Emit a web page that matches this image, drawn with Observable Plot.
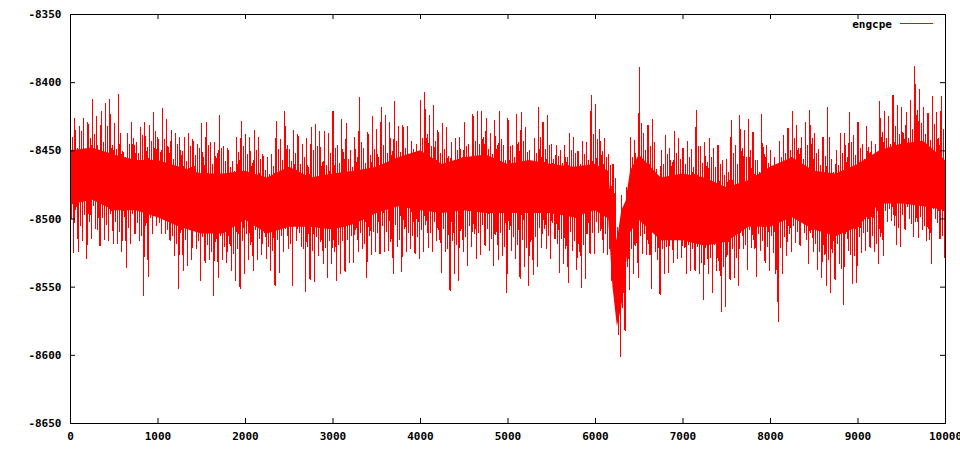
<!DOCTYPE html>
<html>
<head>
<meta charset="utf-8">
<script src="https://cdn.jsdelivr.net/npm/d3@7"></script>
<script src="https://cdn.jsdelivr.net/npm/@observablehq/plot@0.6"></script>
<style>
  html, body { margin: 0; padding: 0; background: #fff; }
  #chart { width: 960px; height: 450px; }
</style>
</head>
<body>
<div id="chart"></div>
<script>
// Series name
const seriesName = "engcpe";
// Tallest spike per 50 units of x (x = 0, 50, ..., 10000)
const highs = [
-8414,-8426,-8432,-8426,-8429,-8412,-8425,-8421,-8415,-8412,
-8430,-8409,-8450,-8437,-8429,-8444,-8433,-8429,-8431,-8422,
-8440,-8419,-8427,-8435,-8437,-8440,-8440,-8437,-8441,-8445,
-8430,-8429,-8444,-8444,-8424,-8447,-8448,-8458,-8440,-8428,
-8438,-8440,-8435,-8440,-8452,-8455,-8453,-8428,-8442,-8421,
-8449,-8435,-8438,-8445,-8441,-8433,-8431,-8436,-8436,-8437,
-8421,-8446,-8427,-8430,-8450,-8440,-8411,-8448,-8436,-8425,
-8434,-8418,-8424,-8429,-8414,-8432,-8431,-8432,-8443,-8445,
-8413,-8407,-8424,-8417,-8435,-8430,-8433,-8444,-8441,-8440,
-8429,-8445,-8423,-8421,-8421,-8426,-8437,-8428,-8421,-8446,
-8426,-8446,-8423,-8422,-8433,-8450,-8441,-8418,-8429,-8424,
-8445,-8446,-8450,-8446,-8437,-8440,-8450,-8443,-8444,-8409,
-8416,-8434,-8441,-8453,-8460,-8506,-8483,-8477,-8440,-8442,
-8389,-8437,-8431,-8427,-8464,-8450,-8439,-8448,-8436,-8441,
-8448,-8443,-8449,-8420,-8447,-8444,-8441,-8448,-8446,-8457,
-8456,-8428,-8446,-8424,-8435,-8427,-8436,-8457,-8423,-8446,
-8450,-8455,-8443,-8439,-8433,-8421,-8431,-8440,-8429,-8420,
-8437,-8449,-8440,-8418,-8456,-8450,-8437,-8437,-8422,-8439,
-8429,-8445,-8432,-8443,-8445,-8414,-8421,-8425,-8409,-8417,
-8418,-8422,-8413,-8388,-8405,-8418,-8422,-8410,-8422,-8410,
-8443
];
// Secondary (shorter) upward spikes (x = 25, 75, ..., 9975)
const midHighs = [
-8440,-8448,-8436,-8452,-8441,-8438,-8450,-8444,-8432,-8446,
-8449,-8437,-8455,-8445,-8441,-8452,-8439,-8447,-8443,-8436,
-8451,-8442,-8447,-8456,-8445,-8450,-8458,-8447,-8453,-8448,
-8455,-8446,-8460,-8452,-8448,-8458,-8462,-8465,-8451,-8447,
-8453,-8459,-8450,-8456,-8464,-8467,-8461,-8449,-8457,-8446,
-8458,-8452,-8460,-8455,-8462,-8450,-8447,-8458,-8461,-8452,
-8448,-8459,-8451,-8456,-8462,-8455,-8444,-8459,-8453,-8449,
-8455,-8446,-8452,-8450,-8443,-8451,-8448,-8454,-8449,-8456,
-8441,-8438,-8447,-8443,-8452,-8449,-8454,-8458,-8450,-8455,
-8447,-8456,-8443,-8445,-8440,-8449,-8453,-8446,-8442,-8457,
-8447,-8455,-8444,-8443,-8451,-8458,-8452,-8440,-8449,-8446,
-8456,-8454,-8459,-8455,-8450,-8452,-8460,-8453,-8457,-8438,
-8442,-8450,-8455,-8461,-8470,-8515,-8495,-8490,-8455,-8458,
-8430,-8450,-8447,-8444,-8472,-8460,-8453,-8458,-8452,-8456,
-8460,-8455,-8462,-8447,-8459,-8458,-8455,-8462,-8460,-8468,
-8466,-8452,-8460,-8448,-8455,-8450,-8457,-8466,-8447,-8459,
-8462,-8466,-8455,-8452,-8450,-8441,-8448,-8456,-8446,-8441,
-8452,-8461,-8454,-8440,-8466,-8461,-8452,-8455,-8444,-8453,
-8448,-8456,-8447,-8455,-8457,-8436,-8441,-8445,-8432,-8438,
-8437,-8441,-8434,-8420,-8430,-8438,-8442,-8431,-8441,-8434
];
// Secondary (shorter) downward spikes (x = 12.5, 62.5, ..., 9962.5)
const midLows = [
-8500,-8493,-8505,-8497,-8502,-8490,-8508,-8499,-8504,-8496,
-8502,-8509,-8498,-8506,-8496,-8503,-8512,-8505,-8499,-8494,
-8503,-8497,-8508,-8512,-8518,-8510,-8515,-8508,-8504,-8516,
-8513,-8519,-8524,-8517,-8512,-8520,-8518,-8525,-8522,-8516,
-8511,-8519,-8508,-8514,-8510,-8520,-8523,-8515,-8512,-8507,
-8518,-8505,-8510,-8522,-8520,-8523,-8513,-8517,-8521,-8516,
-8524,-8519,-8516,-8515,-8512,-8508,-8510,-8518,-8512,-8509,
-8510,-8505,-8509,-8517,-8504,-8515,-8507,-8510,-8512,-8513,
-8508,-8504,-8510,-8502,-8515,-8507,-8522,-8516,-8519,-8509,
-8513,-8505,-8511,-8510,-8504,-8507,-8514,-8512,-8510,-8520,
-8508,-8513,-8519,-8515,-8521,-8517,-8513,-8506,-8507,-8512,
-8503,-8518,-8514,-8522,-8509,-8516,-8524,-8519,-8511,-8510,
-8502,-8509,-8511,-8522,-8540,-8585,-8565,-8535,-8522,-8520,
-8512,-8511,-8526,-8510,-8530,-8522,-8520,-8515,-8513,-8514,
-8521,-8519,-8522,-8520,-8532,-8521,-8528,-8519,-8538,-8535,
-8526,-8522,-8528,-8510,-8519,-8508,-8522,-8511,-8516,-8520,
-8512,-8540,-8521,-8513,-8511,-8505,-8509,-8500,-8515,-8510,
-8518,-8524,-8526,-8530,-8525,-8518,-8536,-8511,-8526,-8527,
-8513,-8510,-8509,-8512,-8518,-8513,-8494,-8492,-8505,-8506,
-8497,-8491,-8503,-8502,-8498,-8505,-8515,-8492,-8503,-8512
];
// Deepest spike per 50 units of x (x = 37.5, 87.5, ..., 9987.5)
const lows = [
-8525,-8524,-8516,-8529,-8514,-8507,-8520,-8515,-8516,-8518,
-8518,-8524,-8536,-8518,-8511,-8516,-8556,-8542,-8511,-8505,
-8511,-8511,-8516,-8527,-8551,-8538,-8534,-8530,-8522,-8545,
-8532,-8530,-8556,-8543,-8530,-8532,-8538,-8545,-8551,-8540,
-8530,-8538,-8530,-8526,-8529,-8538,-8549,-8539,-8524,-8522,
-8549,-8516,-8520,-8553,-8545,-8546,-8527,-8533,-8543,-8533,
-8545,-8540,-8539,-8532,-8532,-8524,-8522,-8543,-8526,-8524,
-8526,-8524,-8523,-8540,-8520,-8539,-8524,-8522,-8526,-8529,
-8524,-8521,-8524,-8516,-8539,-8524,-8553,-8540,-8545,-8524,
-8534,-8520,-8529,-8526,-8520,-8523,-8534,-8530,-8527,-8554,
-8523,-8529,-8544,-8535,-8549,-8541,-8535,-8521,-8522,-8529,
-8515,-8539,-8533,-8547,-8523,-8537,-8550,-8544,-8526,-8525,
-8510,-8525,-8526,-8545,-8563,-8601,-8582,-8552,-8540,-8543,
-8525,-8526,-8551,-8524,-8556,-8540,-8539,-8532,-8529,-8528,
-8540,-8538,-8538,-8540,-8559,-8540,-8554,-8538,-8568,-8564,
-8545,-8543,-8549,-8522,-8537,-8521,-8542,-8523,-8532,-8538,
-8525,-8575,-8540,-8527,-8524,-8517,-8520,-8510,-8533,-8524,
-8537,-8543,-8549,-8554,-8545,-8533,-8563,-8523,-8547,-8547,
-8525,-8523,-8521,-8524,-8533,-8527,-8502,-8501,-8519,-8520,
-8508,-8500,-8513,-8514,-8508,-8516,-8533,-8500,-8515,-8528
];
// Solid core of the trace
const coreX = [0,250,500,750,1000,1250,1500,1750,2000,2250,2500,2750,3000,3250,3500,3750,4000,4250,4500,4750,5000,5250,5500,5750,6000,6150,6200,6250,6300,6350,6400,6500,6750,7000,7250,7500,7750,8000,8250,8500,8750,9000,9250,9500,9750,10000];
const coreTop = [-8450,-8448,-8453,-8457,-8457,-8462,-8467,-8467,-8465,-8470,-8462,-8470,-8467,-8465,-8462,-8455,-8450,-8460,-8455,-8453,-8460,-8457,-8460,-8462,-8460,-8465,-8500,-8516,-8494,-8487,-8465,-8453,-8470,-8467,-8470,-8477,-8472,-8462,-8455,-8465,-8467,-8460,-8450,-8445,-8443,-8457];
const coreBottom = [-8490,-8486,-8494,-8494,-8499,-8506,-8511,-8511,-8501,-8511,-8506,-8506,-8508,-8504,-8496,-8491,-8494,-8496,-8494,-8496,-8496,-8496,-8496,-8499,-8494,-8500,-8550,-8579,-8565,-8535,-8510,-8501,-8516,-8516,-8520,-8517,-8506,-8506,-8499,-8508,-8513,-8506,-8489,-8489,-8491,-8494];
// Tick values
const xTicks = [0,1000,2000,3000,4000,5000,6000,7000,8000,9000,10000];
const yTicks = [-8650,-8600,-8550,-8500,-8450,-8400,-8350];

// Build tables
const step = 50;
const series = [];
for (let i = 0; i < highs.length; i++) {
  series.push({x: i * step, y: highs[i]});
  if (i < lows.length) {
    series.push({x: i * step + step * 0.25, y: midLows[i]});
    series.push({x: i * step + step * 0.5, y: midHighs[i]});
    series.push({x: i * step + step * 0.75, y: lows[i]});
  }
}
const core = coreX.map((x, i) => ({x, top: coreTop[i], bottom: coreBottom[i]}));

const W = 960, H = 450, mL = 70, mR = 15, mT = 14, mB = 27;
const innerW = W - mL - mR, innerH = H - mT - mB, tl = 5;

const chart = Plot.plot({
  width: W, height: H,
  marginLeft: mL, marginRight: mR, marginTop: mT, marginBottom: mB,
  style: {fontFamily: "'DejaVu Sans Mono', monospace", fontSize: "11px", fontWeight: "bold", background: "#fff", color: "#000"},
  x: {domain: [0, 10000], label: null},
  y: {domain: [-8650, -8350], label: null},
  marks: [
    Plot.areaY(core, {x: "x", y1: "bottom", y2: "top", fill: "red"}),
    Plot.line(series, {x: "x", y: "y", stroke: "red", strokeWidth: 1, shapeRendering: "crispEdges"}),
    Plot.frame({stroke: "#000"}),
    Plot.tickX(xTicks, {x: d => d, insetTop: innerH - tl, stroke: "#000"}),
    Plot.tickX(xTicks, {x: d => d, insetBottom: innerH - tl, stroke: "#000"}),
    Plot.tickY(yTicks, {y: d => d, insetRight: innerW - tl, stroke: "#000"}),
    Plot.tickY(yTicks, {y: d => d, insetLeft: innerW - tl, stroke: "#000"}),
    Plot.axisX(xTicks, {tickSize: 0, tickPadding: 9, label: null, fill: "#000", tickFormat: d => String(d)}),
    Plot.axisY(yTicks, {tickSize: 0, tickPadding: 9, label: null, fill: "#000", tickFormat: d => String(d)})
  ]
});
document.getElementById("chart").appendChild(chart);

// Legend (gnuplot style, top right inside the frame)
const svg = d3.select(chart);
const lg = svg.append("g").attr("font-family", "'DejaVu Sans Mono', monospace").attr("font-size", 11).attr("font-weight", "bold");
lg.append("text").attr("x", 892).attr("y", 24).attr("dy", "0.35em").attr("text-anchor", "end").style("fill", "#000").text(seriesName);
lg.append("line").attr("x1", 900).attr("x2", 933).attr("y1", 23.5).attr("y2", 23.5)
  .style("stroke", "#ff0000").style("stroke-width", "1px").style("fill", "none").attr("shape-rendering", "crispEdges");
</script>
</body>
</html>
